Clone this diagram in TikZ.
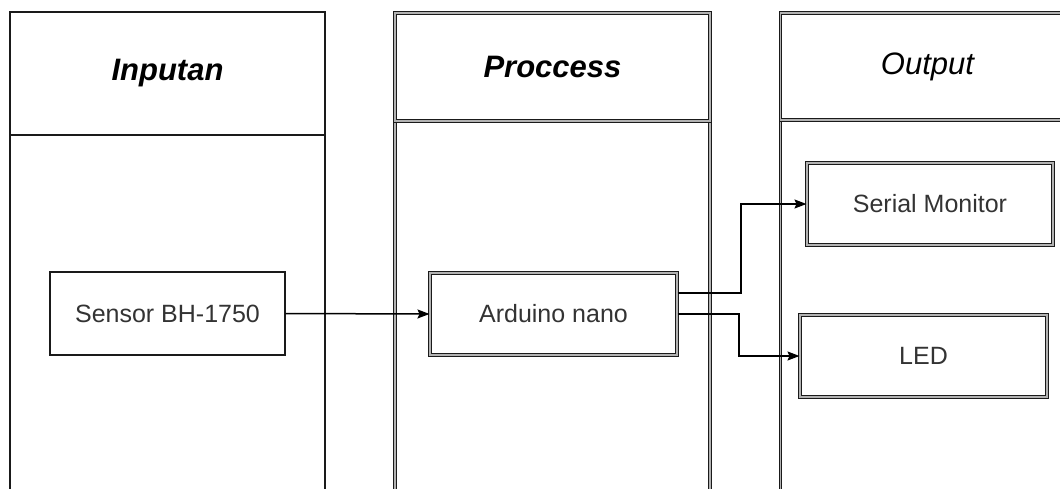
\documentclass[tikz,border=0pt]{standalone}
\usepackage{fontspec}
\setmainfont{Liberation Sans}
\usetikzlibrary{arrows.meta}
\definecolor{ln}{HTML}{1A1A1A}
\definecolor{tx}{HTML}{333333}
\tikzset{
  single/.style={draw=ln, line width=1.6pt},
  dbl/.style={draw=ln, double=black!30, double distance=1.4pt, line width=1pt},
  hdtext/.style={font=\fontsize{31}{36}\selectfont\bfseries\itshape, text=black},
  box/.style={minimum width=#1, inner sep=0pt, font=\fontsize{25}{30}\selectfont, text=tx},
  conn/.style={draw=black, line width=1.5pt, -{Stealth[length=12pt,width=9pt,inset=2pt]}},
}
\begin{document}
\begin{tikzpicture}[x=1pt,y=-1pt]
\useasboundingbox (0,0) rectangle (1060,488);
\clip (0,0) rectangle (1060,488);
% Inputan panel
\node[single, minimum width=315pt, minimum height=123pt, inner sep=0pt, hdtext] (inhead) at (167.5,73.5) {Inputan};
\node[single, minimum width=315pt, minimum height=400pt, inner sep=0pt] (inbody) at (167.5,335) {};
% Process panel
\node[dbl, minimum width=315pt, minimum height=400pt, inner sep=0pt] (prbody) at (552.5,321) {};
\node[dbl, fill=white, minimum width=315pt, minimum height=108pt, inner sep=0pt, hdtext] (prhead) at (552.5,67) {Proccess};
% Output panel
\node[dbl, minimum width=320pt, minimum height=400pt, inner sep=0pt, anchor=north west] (outbody) at (780,120) {};
\node[dbl, fill=white, minimum width=320pt, minimum height=107pt, inner sep=0pt, font=\fontsize{31}{36}\selectfont\itshape, text=black, anchor=west] (outhead) at (780,66.5) {\hspace*{97pt}Output\hspace*{123pt}};
% Boxes
\node[single, line width=1.4pt, box=235pt, minimum height=83pt] (sensor) at (167.5,313.5) {Sensor BH-1750};
\node[dbl, box=247pt, minimum height=82pt] (arduino) at (553.5,314) {Arduino nano};
\node[dbl, box=246pt, minimum height=82pt] (serial) at (930,204) {Serial Monitor};
\node[dbl, box=247pt, minimum height=82pt] (led) at (923.5,356) {LED};
% Connectors
\coordinate (a1) at ([yshift=21pt]arduino.east);
\draw[conn] (sensor.east) -- (arduino.west);
\draw[conn] (a1) -| (741,204) -- (serial.west);
\draw[conn] (arduino.east) -| (739,356) -- (led.west);
\end{tikzpicture}
\end{document}
